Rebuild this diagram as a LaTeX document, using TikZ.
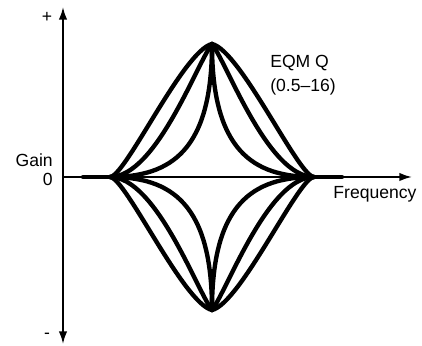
\documentclass[tikz,border=0pt]{standalone}
\usepackage{fontspec}
\setmainfont{Liberation Sans}
\usetikzlibrary{arrows.meta}

\begin{document}
\begin{tikzpicture}[x=0.025cm,y=-0.025cm,>={Latex[length=9pt,width=6pt]},
  axisline/.style={line width=1.3pt},
  gaincurve/.style={line width=3.1pt,line cap=round},
  flatline/.style={line width=1pt},
  lbl/.style={font=\fontsize{12.5}{17}\selectfont,inner sep=0pt}]
\useasboundingbox (0,0) rectangle (422,346);
% axes
\coordinate (yneg) at (63,344);
\coordinate (ypos) at (63,7);
\coordinate (origin) at (63,177);
\coordinate (xpos) at (412,177);
\coordinate (lstart) at (83,177);
\coordinate (lbase) at (110,177);
\coordinate (rbase) at (314,177);
\coordinate (rend) at (342,177);
\draw[axisline,<->] (yneg) -- (ypos);
\draw[axisline,->] (origin) -- (xpos);
\draw[gaincurve] (lstart) -- (lbase);
\draw[gaincurve] (rbase) -- (rend);
\draw[flatline] (lbase) -- (rbase);
% family of peak / dip curves
\begin{scope}[shift={(212,177)},x=2.55cm,y=3.325cm]
\foreach \sx in {1,-1}{
  \foreach \sy in {1,-1}{
    \begin{scope}[xscale=\sx,yscale=\sy]
    \foreach \p/\qx/\qy in {0.85/0.28/0.95,0.55/0.15/0.85,0.4/0/0.2}
      \draw[gaincurve] (-1,0) .. controls (-\p,0) and (-\qx,\qy) .. (0,1);
    \end{scope}
  }
}
\end{scope}
% labels
\node[lbl] (plus) at (47,17) {+};
\node[lbl] (minus) at (47,336) {-};
\node[lbl,anchor=east] (gain) at (53,160) {Gain};
\node[lbl,anchor=east] (zero) at (53,179) {0};
\node[lbl] (freq) at (375,194) {Frequency};
\node[lbl,align=left,anchor=west] (eqmq) at (270,75) {EQM Q\\(0.5--16)};
\end{tikzpicture}
\end{document}
